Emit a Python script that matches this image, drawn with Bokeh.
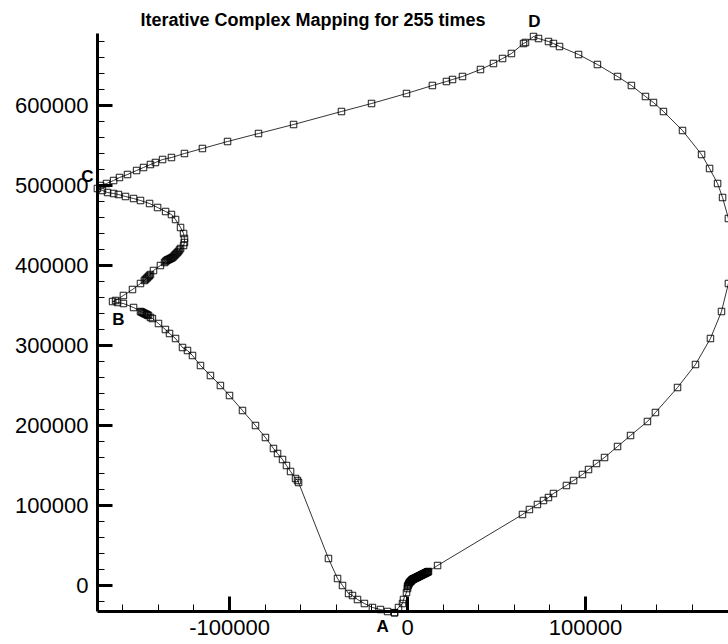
from bokeh.plotting import figure
from bokeh.models import (FixedTicker, LabelSet, Label, Range1d, PrintfTickFormatter,
                          ColumnDataSource)
from bokeh.core.properties import value
from bokeh.embed import file_html
from bokeh.resources import INLINE

# Trajectory of the iterative complex mapping (closed loop A -> D -> C -> B -> A)
x_vals = [
    -7300, -5060, -2800, -2250, -560, 0,
    0, 280, 560, 830, 1100, 1400, 1700, 2000, 2250, 2500,
    2800, 3050, 3300, 3600, 3900, 4200, 4500, 4800, 5100, 5350,
    5600, 5900, 6200, 6450, 6700, 7000, 7300, 7600, 7900, 8150,
    8400, 8700, 9000, 9300, 9600, 9850, 10100, 10400, 10700, 10950,
    11200, 11500, 11800,
    16900,
    64600, 68500, 73000, 76400, 79200, 82000, 89300, 93300, 98300, 101700,
    106200, 110700, 118000, 125300, 134800, 139300, 151700, 161800, 170200, 176400,
    180300, 182600, 183100, 180300, 177000, 174200, 169700, 165200, 154500, 143800,
    138200, 133700, 125800, 118000, 106700, 96100, 85400, 82000, 79200, 73600,
    70800, 66300, 65200, 58400, 53400, 48300, 41000, 30900, 25300, 21900,
    14000, -560, -20200, -37100, -64000, -83700, -101100, -115200, -125300, -132600,
    -137600, -141600, -144400, -148300, -152200, -157300, -161800, -165100, -169100, -172400,
    -174200, -171400, -168500, -165100, -162400, -158400, -153900, -150000, -144900, -140400,
    -135900, -132600, -130300, -127500, -125800, -125300, -125300, -125800, -127500,
    -128100, -128700, -129300, -129800, -130400, -130900, -131500, -132000, -132600, -133100,
    -133700, -134300, -134800, -135400, -135900, -136500,
    -138800, -142700,
    -144400, -145000, -145500, -146100, -146600, -147200, -147800,
    -150000, -154500, -159600, -164000, -165700, -162900, -159600, -153900,
    -150000, -149400, -148900, -148300, -147800, -147200, -146600, -146100, -145500,
    -144400, -143300, -139900, -136000, -133700, -130300, -126400, -123600, -120800, -116300,
    -110700, -105100, -100000, -92700, -85400, -79800, -75300, -73000, -70200, -68000,
    -65700, -62900, -61800, -61200,
    -44400, -39300, -36500, -33100, -30900, -28100, -24200, -19700, -15200, -11200, -7300,
]
y_vals = [
    -34000, -27500, -22500, -17500, -8750, -3750,
    -1250, 0, 1250, 2500, 3750, 4400, 5000, 5600, 6250, 6900,
    7500, 7800, 8100, 8400, 8750, 9100, 9400, 9700, 10000, 10300,
    10600, 10900, 11250, 11600, 11900, 12200, 12500, 12800, 13100, 13400,
    13750, 14100, 14400, 14700, 15000, 15300, 15600, 15900, 16250, 16600,
    16900, 17200, 17500,
    25000,
    88750, 95000, 101250, 106250, 110000, 115000, 125000, 131250, 138750, 145000,
    152500, 160000, 173750, 187500, 205000, 216250, 247500, 276250, 308750, 342500,
    377500, 403750, 431250, 458750, 485000, 502500, 521250, 538750, 568750, 592500,
    603750, 611250, 625000, 636250, 651250, 663750, 673750, 677500, 680000, 683750,
    686250, 678750, 677500, 665000, 658750, 652500, 645000, 636250, 632500, 630000,
    625000, 615000, 602500, 592500, 576250, 565000, 555000, 546250, 540000, 535000,
    532500, 528750, 526250, 522500, 518750, 513750, 510000, 506250, 502500, 500000,
    496250, 493750, 491250, 490000, 488750, 486250, 483750, 481250, 477500, 472500,
    467500, 463750, 457500, 447500, 440000, 433750, 428750, 425000, 421250,
    419400, 417500, 416250, 415000, 413750, 412500, 411250, 410000, 409400, 408750,
    408100, 407500, 406900, 406250, 405000, 403750,
    400000, 393750,
    388750, 387500, 386250, 385000, 383750, 382500, 381250,
    377500, 370000, 362500, 356250, 355000, 353750, 352500, 347500,
    342500, 341900, 341250, 340600, 340000, 339400, 338750, 338100, 337500,
    335000, 333750, 327500, 320000, 315000, 308750, 297500, 293750, 287500, 275000,
    262500, 250000, 237500, 218750, 200000, 185000, 171250, 165000, 157500, 150000,
    142500, 133750, 131250, 128750,
    33750, 8750, 0, -10000, -12500, -17500, -22500, -27500, -30000, -32500, -34000,
]

# axis extents and ticks
x_axis_min, x_axis_max = -174160, 180340
y_axis_min, y_axis_max = -32500, 690000
x_major = [-100000, 0, 100000]
x_minor = [-160000, -140000, -120000, -80000, -60000, -40000, -20000,
           20000, 40000, 60000, 80000, 120000, 140000, 160000]
y_major = [0, 100000, 200000, 300000, 400000, 500000, 600000]
y_minor = [-20000] + [v for v in range(20000, 690000, 20000) if v % 100000 != 0]

title_text = "Iterative Complex Mapping for 255 times"
title_x = -150000
title_y = 707500

point_names = ["A", "B", "C", "D"]
point_x = [-14000, -162400, -179800, 71300]
point_y = [-51250, 332500, 511250, 705000]

FONT = "Liberation Sans"

p = figure(width=728, height=644, output_backend="svg", toolbar_location=None,
           x_range=Range1d(-228650, 180340), y_range=Range1d(-73750, 731250),
           min_border=0)
p.min_border_left = 0
p.min_border_right = 0
p.min_border_top = 0
p.min_border_bottom = 0
p.outline_line_color = None
p.xgrid.visible = False
p.ygrid.visible = False
p.background_fill_color = "white"
p.border_fill_color = "white"

p.xaxis.fixed_location = y_axis_min
p.yaxis.fixed_location = x_axis_min
p.xaxis.bounds = (x_axis_min, x_axis_max)
p.yaxis.bounds = (y_axis_min, y_axis_max)
p.xaxis.ticker = FixedTicker(ticks=x_major, minor_ticks=x_minor)
p.yaxis.ticker = FixedTicker(ticks=y_major, minor_ticks=y_minor)
for ax in (p.xaxis, p.yaxis):
    ax.formatter = PrintfTickFormatter(format="%d")
    ax.axis_line_width = 3
    ax.axis_line_color = "black"
    ax.major_tick_in = 15
    ax.major_tick_out = 0
    ax.major_tick_line_width = 3
    ax.minor_tick_in = 7
    ax.minor_tick_out = 0
    ax.minor_tick_line_width = 1
    ax.major_label_text_font = FONT
    ax.major_label_text_font_size = "22px"
    ax.major_label_text_color = "black"
p.xaxis.major_label_standoff = 8
p.yaxis.major_label_standoff = 9

p.line(x_vals, y_vals, line_color="black", line_width=0.8)
p.scatter(x_vals, y_vals, marker="square", size=6.5, fill_color=None,
          line_color="black", line_width=0.9)

pts = ColumnDataSource(dict(x=point_x, y=point_y, text=point_names))
p.add_layout(LabelSet(x="x", y="y", text="text", source=pts,
                      text_font=value(FONT), text_font_size="17px",
                      text_font_style="bold", text_align="center",
                      text_baseline="middle", text_color="black"))

p.add_layout(Label(x=title_x, y=title_y, text=title_text,
                   text_font=FONT, text_font_size="18px",
                   text_font_style="bold", text_align="left",
                   text_baseline="middle", text_color="black"))

open("out.html", "w").write(file_html(p, INLINE))
